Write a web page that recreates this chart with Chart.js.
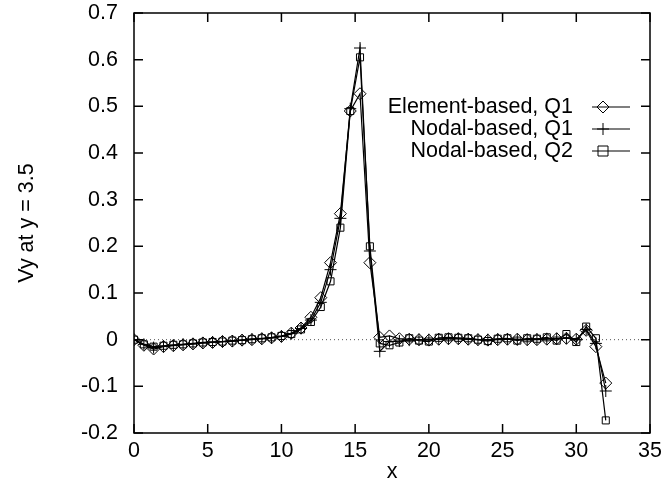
<!DOCTYPE html>
<html>
<head>
<meta charset="utf-8">
<script src="https://cdn.jsdelivr.net/npm/chart.js@4.4.0/dist/chart.umd.min.js"></script>
<style>
  body { margin: 0; background: #fff; }
  #wrap { width: 665px; height: 489px; }
</style>
</head>
<body>
<div id="wrap"><canvas id="chart" width="665" height="489"></canvas></div>
<script>
// x positions of the nodes
var xs = [0, 0.67, 1.33, 2, 2.67, 3.33, 4, 4.67, 5.33, 6, 6.67, 7.33, 8, 8.67, 9.33, 10,
          10.67, 11.33, 12, 12.67, 13.33, 14, 14.67, 15.33, 16, 16.67, 17.33, 18, 18.67,
          19.33, 20, 20.67, 21.33, 22, 22.67, 23.33, 24, 24.67, 25.33, 26, 26.67, 27.33,
          28, 28.67, 29.33, 30, 30.67, 31.33, 32];

var elementQ1 = [0, -0.012, -0.02, -0.015, -0.013, -0.011, -0.009, -0.007, -0.006, -0.004, -0.003, -0.001, 0, 0.002, 0.004, 0.007,
                 0.014, 0.025, 0.048, 0.09, 0.165, 0.27, 0.49, 0.527, 0.165, 0.005, 0.008, 0.002, 0.001,
                 0, -0.001, 0.001, 0.002, 0.002, 0.001, 0, -0.001, 0, 0.001, 0.001, 0, 0,
                 0.001, 0.002, 0.003, 0.001, 0.02, -0.015, -0.093];

var nodalQ1 = [0, -0.01, -0.017, -0.014, -0.012, -0.01, -0.009, -0.007, -0.005, -0.004, -0.003, -0.001, 0.001, 0.002, 0.004, 0.007,
               0.013, 0.024, 0.042, 0.08, 0.15, 0.26, 0.495, 0.625, 0.19, -0.025, -0.004, -0.003, -0.001,
               0, 0, 0.001, 0.002, 0.002, 0.001, 0, 0, 0.001, 0.001, 0, 0, 0.001,
               0.002, 0.002, 0.003, 0, 0.022, -0.008, -0.11];

var nodalQ2 = [0, -0.01, -0.015, -0.013, -0.011, -0.01, -0.008, -0.006, -0.005, -0.004, -0.002, -0.001, 0.001, 0.003, 0.005, 0.008,
               0.012, 0.022, 0.038, 0.07, 0.125, 0.24, 0.49, 0.605, 0.2, -0.008, -0.012, -0.006, 0.003,
               -0.002, -0.004, 0.004, 0.005, 0.004, 0.003, 0, -0.003, 0.002, 0.003, -0.002, 0.003, 0.002,
               0.005, -0.002, 0.012, -0.005, 0.028, 0.003, -0.173];

var seriesLabels = ['Element-based, Q1', 'Nodal-based, Q1', 'Nodal-based, Q2'];
var xTicks = [0, 5, 10, 15, 20, 25, 30, 35];
var yTicks = [-0.2, -0.1, 0, 0.1, 0.2, 0.3, 0.4, 0.5, 0.6, 0.7];

function pts(ys) {
    return xs.map(function (x, i) { return { x: x, y: ys[i] }; });
}

var font = { family: '"Liberation Sans", Arial, sans-serif', size: 21.5 };

function drawMarker(ctx, style, x, y) {
    ctx.beginPath();
    if (style == 'rectRot') {
        ctx.moveTo(x, y - 6); ctx.lineTo(x + 6, y); ctx.lineTo(x, y + 6); ctx.lineTo(x - 6, y); ctx.closePath();
    } else if (style == 'cross') {
        ctx.moveTo(x - 6, y); ctx.lineTo(x + 6, y); ctx.moveTo(x, y - 6); ctx.lineTo(x, y + 6);
    } else {
        ctx.rect(x - 5, y - 5, 10, 10);
    }
    ctx.stroke();
}

// gnuplot style frame: inward ticks on all four sides + legend on the right
var framePlugin = {
    id: 'frame',
    afterDraw: function (chart) {
        var ctx = chart.ctx;
        var a = chart.chartArea;
        var sx = chart.scales.x, sy = chart.scales.y;
        ctx.save();
        ctx.strokeStyle = '#000';
        ctx.lineWidth = 1.5;
        ctx.strokeRect(a.left, a.top, a.right - a.left, a.bottom - a.top);
        ctx.beginPath();
        xTicks.forEach(function (v) {
            var p = sx.getPixelForValue(v);
            ctx.moveTo(p, a.bottom); ctx.lineTo(p, a.bottom - 9);
            ctx.moveTo(p, a.top); ctx.lineTo(p, a.top + 9);
        });
        yTicks.forEach(function (v) {
            var p = sy.getPixelForValue(v);
            ctx.moveTo(a.left, p); ctx.lineTo(a.left + 9, p);
            ctx.moveTo(a.right, p); ctx.lineTo(a.right - 9, p);
        });
        ctx.stroke();

        // legend
        ctx.font = font.size + 'px ' + font.family;
        ctx.fillStyle = '#000';
        ctx.textAlign = 'right';
        ctx.textBaseline = 'middle';
        for (var i = 0; i < 3; i++) {
            var ds = chart.data.datasets[i];
            var y = a.top + 94 + i * 22;
            ctx.fillText(ds.label, a.right - 77, y);
            ctx.lineWidth = 1.2;
            ctx.beginPath();
            ctx.moveTo(a.right - 58, y); ctx.lineTo(a.right - 20, y);
            ctx.stroke();
            ctx.lineWidth = 1;
            drawMarker(ctx, ds.pointStyle, a.right - 47, y);
        }
        ctx.restore();
    }
};

var lineStyle = function (label, ys, style, r) {
    return {
        label: label,
        data: pts(ys),
        borderColor: '#000',
        borderWidth: 1.2,
        pointStyle: style,
        pointRadius: r,
        pointBorderWidth: 1,
        pointBorderColor: '#000',
        pointBackgroundColor: 'rgba(0,0,0,0)',
        fill: false,
        tension: 0
    };
};

var ctx = document.getElementById('chart');
var myChart = new Chart(ctx, {
    type: 'line',
    data: {
        datasets: [
            lineStyle(seriesLabels[0], elementQ1, 'rectRot', 6),
            lineStyle(seriesLabels[1], nodalQ1, 'cross', 6),
            lineStyle(seriesLabels[2], nodalQ2, 'rect', 5),
            {
                label: 'zero',
                data: [{ x: 0, y: 0 }, { x: 35, y: 0 }],
                borderColor: '#555',
                borderWidth: 1,
                borderDash: [1, 3],
                pointRadius: 0
            }
        ]
    },
    options: {
        responsive: false,
        animation: false,
        layout: { padding: { top: 13, right: 15, left: 0, bottom: 0 } },
        plugins: {
            legend: { display: false },
            tooltip: { enabled: false }
        },
        scales: {
            x: {
                type: 'linear',
                min: 0,
                max: 35,
                afterFit: function (s) { s.height = 56; s.paddingLeft = 0; s.paddingRight = 0; },
                afterBuildTicks: function (s) { s.ticks = xTicks.map(function (v) { return { value: v }; }); },
                grid: { display: false, drawTicks: false },
                border: { display: false },
                ticks: { color: '#000', font: font, padding: 5, maxRotation: 0 },
                title: { display: true, text: 'x', color: '#000', font: font, padding: { top: 0, bottom: 4 } }
            },
            y: {
                type: 'linear',
                min: -0.2,
                max: 0.7,
                afterFit: function (s) { s.width = 134; s.paddingTop = 0; s.paddingBottom = 0; },
                afterBuildTicks: function (s) { s.ticks = yTicks.map(function (v) { return { value: v }; }); },
                grid: { display: false, drawTicks: false },
                border: { display: false },
                ticks: {
                    color: '#000',
                    font: font,
                    padding: 16,
                    callback: function (v) { return String(parseFloat(Number(v).toFixed(1))); }
                },
                title: { display: true, text: 'Vy at y = 3.5', color: '#000', font: font, padding: { top: 14, bottom: 0 } }
            }
        }
    },
    plugins: [framePlugin]
});
</script>
</body>
</html>
